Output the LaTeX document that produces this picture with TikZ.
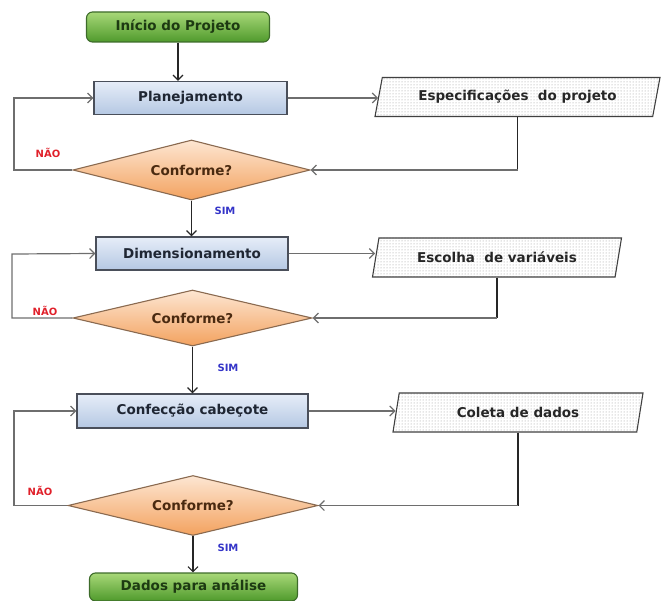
\documentclass[tikz,border=0pt]{standalone}
\usepackage{fontspec}
\setmainfont{DejaVu Sans}
\usetikzlibrary{shapes.geometric,arrows.meta,patterns}

\definecolor{termtop}{HTML}{A8D878}
\definecolor{termbot}{HTML}{4F9A2C}
\definecolor{termline}{HTML}{3D6B2A}
\definecolor{termtext}{HTML}{1D3A12}
\definecolor{proctop}{HTML}{E6EDF8}
\definecolor{procbot}{HTML}{B5C8E3}
\definecolor{procline}{HTML}{4A4F5A}
\definecolor{proctext}{HTML}{1F2633}
\definecolor{dectop}{HTML}{FDE6D2}
\definecolor{decbot}{HTML}{F3A25F}
\definecolor{decline}{HTML}{8A6A50}
\definecolor{dectext}{HTML}{4A2A10}
\definecolor{wire}{HTML}{6E6E6E}
\definecolor{naored}{HTML}{E0202A}
\definecolor{simblue}{HTML}{3434C8}

\begin{document}
\begin{tikzpicture}[x=1pt,y=-1pt,
  font=\bfseries\fontsize{13.5}{16}\selectfont,
  terminal/.style={rectangle, rounded corners=6pt, draw=termline, line width=1.1pt,
    top color=termtop, bottom color=termbot, text=termtext, minimum width=183pt, minimum height=30pt},
  procbox/.style={rectangle, draw=procline, line width=1.2pt,
    top color=proctop, bottom color=procbot, text=proctext, minimum height=33pt},
  decision/.style={diamond, aspect=4, inner sep=0pt, draw=decline, line width=1.1pt,
    top color=dectop, bottom color=decbot, text=dectext},
  datashape/.style={trapezium, trapezium left angle=70, trapezium right angle=110,
    trapezium stretches body, draw=black!75, line width=1.1pt,
    pattern=dots, pattern color=gray!85, text=black!85, minimum height=39pt},
  mainflow/.style={draw=black!85, line width=1.2pt, -{Straight Barb[length=5pt,width=10pt]}},
  sideflow/.style={draw=wire, line width=1.2pt, -{Straight Barb[length=5pt,width=10pt]}},
  nao/.style={text=naored, font=\bfseries\fontsize{10}{12}\selectfont},
  sim/.style={text=simblue, font=\bfseries\fontsize{10}{12}\selectfont}
]
\useasboundingbox (0,0) rectangle (663,601);

% stage 1
\node[terminal] (start) at (178,27) {Início do Projeto};
\node[procbox, minimum width=193pt] (plan) at (190.5,98) {Planejamento};
\node[datashape, minimum width=285pt] (spec) at (517.5,97) {Especificações\ \ do projeto};
\node[decision, minimum width=237pt, minimum height=60pt] (d1) at (191.5,170) {Conforme?};

% stage 2
\node[procbox, minimum width=192pt] (dim) at (192,253.5) {Dimensionamento};
\node[datashape, minimum width=249pt] (esc) at (497,257.5) {Escolha\ \ de variáveis};
\node[decision, minimum width=239pt, minimum height=56pt] (d2) at (192.5,318) {Conforme?};

% stage 3
\node[procbox, minimum width=231pt, minimum height=34pt] (conf) at (192.5,411) {Confecção cabeçote};
\node[datashape, minimum width=250pt] (col) at (518,412.5) {Coleta de dados};
\node[decision, minimum width=250pt, minimum height=60pt] (d3) at (193,505.5) {Conforme?};

\node[terminal, minimum width=208pt, minimum height=28pt] (stop) at (193.5,587) {Dados para análise};

% loop corners
\coordinate (l1) at (14,98);
\coordinate (l2) at (12,254);
\coordinate (l3) at (14,411);

% main flow
\draw[mainflow] (start) -- (start.south |- plan.north);
\draw[mainflow] (d1.south) -- (d1.south |- dim.north);
\draw[mainflow] (d2.south) -- (d2.south |- conf.north);
\draw[mainflow] (d3.south) -- (d3.south |- stop.north);

% to the data shapes
\draw[sideflow] (plan.east) -- (plan.east -| spec.west);
\draw[sideflow] (dim.east) -- (dim.east -| esc.west);
\draw[sideflow] (conf.east) -- (conf.east -| col.west);

% back from the data shapes to the checks
\draw[black!85, line width=1.2pt] (spec.south) -- (spec.south |- d1.east);
\draw[sideflow] (spec.south |- d1.east) -- (d1.east);
\draw[black!85, line width=1.2pt] (esc.south) -- (esc.south |- d2.east);
\draw[sideflow] (esc.south |- d2.east) -- (d2.east);
\draw[black!85, line width=1.2pt] (col.south) -- (col.south |- d3.east);
\draw[sideflow] (col.south |- d3.east) -- (d3.east);

% rework loops
\draw[sideflow] (d1.west) -| (l1) -- (plan.west);
\draw[sideflow] (d2.west) -| (l2) -- (dim.west);
\draw[sideflow] (d3.west) -| (l3) -- (conf.west);

% labels
\node[nao] (n1) at (48,153) {NÃO};
\node[nao] (n2) at (45,311) {NÃO};
\node[nao] (n3) at (40,491) {NÃO};
\node[sim] (s1) at (225,211) {SIM};
\node[sim] (s2) at (228,368) {SIM};
\node[sim] (s3) at (228,548) {SIM};
\end{tikzpicture}
\end{document}
